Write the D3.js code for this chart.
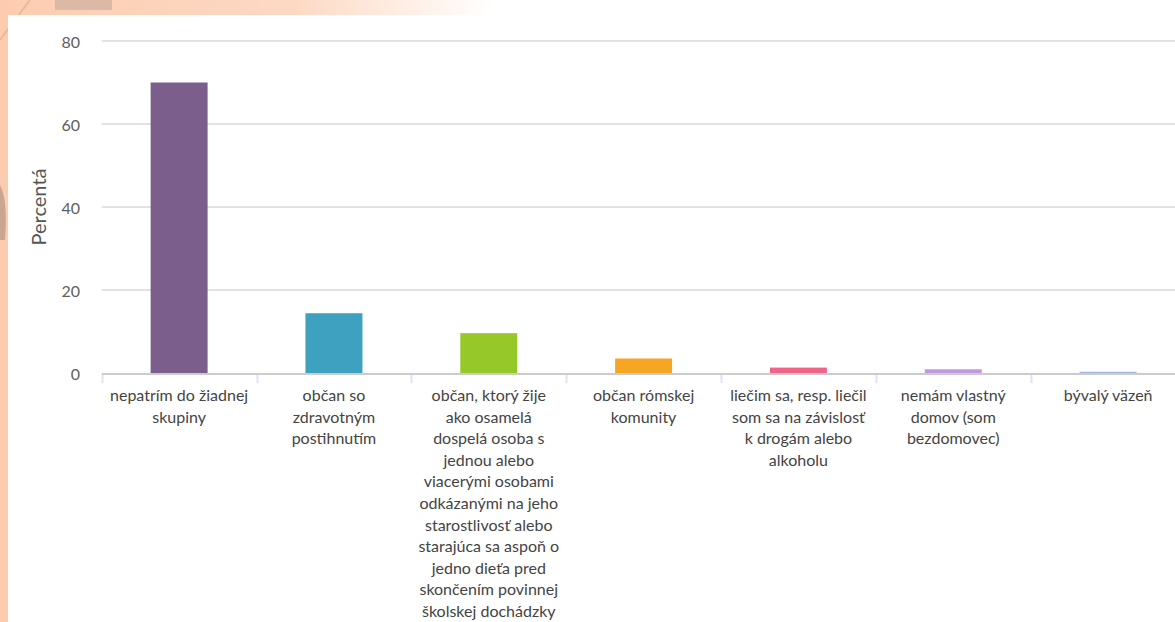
<!DOCTYPE html>
<html>
<head>
<meta charset="utf-8">
<script src="https://cdn.jsdelivr.net/npm/d3@7"></script>
<style>
  body { margin: 0; background: #fff; }
  svg { display: block; font-family: Lato, "Open Sans", sans-serif; }
</style>
</head>
<body>
<svg width="1175" height="622"></svg>
<script>
// categories (x axis), "\n" marks where the label wraps
const categories = [
  "nepatrím do žiadnej\nskupiny",
  "občan so\nzdravotným\npostihnutím",
  "občan, ktorý žije\nako osamelá\ndospelá osoba s\njednou alebo\nviacerými osobami\nodkázanými na jeho\nstarostlivosť alebo\nstarajúca sa aspoň o\njedno dieťa pred\nskončením povinnej\nškolskej dochádzky",
  "občan rómskej\nkomunity",
  "liečim sa, resp. liečil\nsom sa na závislosť\nk drogám alebo\nalkoholu",
  "nemám vlastný\ndomov (som\nbezdomovec)",
  "bývalý väzeň"
]
// percentages
const values = [70.0, 14.4, 9.6, 3.5, 1.3, 0.9, 0.3]
const colors = ["#7b5e8c", "#3fa1c0", "#96c82a", "#f5a623", "#f0648a", "#c397e0", "#a4b4e0"]
const yTicks = [0, 20, 40, 60, 80]
const yTitle = "Percentá"

const svg = d3.select('svg')
const width = +svg.attr('width')
const height = +svg.attr('height')

// page background (peach strip + white panel)
const defs = svg.append('defs')
const grad = defs.append('linearGradient').attr('id', 'topfade')
grad.append('stop').attr('offset', '0%').attr('stop-color', '#fcccb0')
grad.append('stop').attr('offset', '25%').attr('stop-color', '#fdd9c4')
grad.append('stop').attr('offset', '42%').attr('stop-color', '#ffffff')
svg.append('rect').attr('width', width).attr('height', height).attr('fill', 'url(#topfade)')
svg.append('rect').attr('width', 8).attr('height', height).attr('fill', '#fdcbb0')
svg.append('rect').attr('x', 55).attr('width', 57).attr('height', 10).attr('fill', '#dcb9a5')
svg.append('path').attr('d', 'M0,185 Q8,200 5,240 L0,240 Z').attr('fill', '#c9a592')
svg.append('path').attr('d', 'M0,40 L30,0').attr('stroke', '#e9b89d').attr('stroke-width', 2)
svg.append('rect').attr('x', 8).attr('y', 15).attr('width', width - 8).attr('height', height - 15).attr('fill', '#fff')

const x = d3.scaleBand()
  .domain(categories)
  .range([101.7, 1185.5])
  .padding(0)

const y = d3.scaleLinear()
  .domain([0, 80])
  .range([373, 41])

const barWidth = x.bandwidth() * 0.368

// gridlines
svg.append('g')
  .selectAll('line')
  .data(yTicks.filter(t => t > 0))
  .enter().append('line')
  .attr('x1', 101.7).attr('x2', width)
  .attr('y1', d => y(d)).attr('y2', d => y(d))
  .attr('stroke', '#d8d8d8')
  .attr('stroke-width', 1.5)

// y axis labels
const yAxis = svg.append('g')
  .attr('transform', 'translate(80,0)')
  .call(d3.axisLeft(y).tickValues(yTicks).tickSize(0).tickPadding(0))
yAxis.select('.domain').remove()
yAxis.selectAll('text')
  .attr('font-family', 'Lato, sans-serif')
  .attr('font-size', 16)
  .attr('fill', '#606060')
  .attr('dy', '0.4em')

svg.append('text')
  .attr('transform', `translate(46,${(y(0) + y(80)) / 2}) rotate(-90)`)
  .attr('text-anchor', 'middle')
  .attr('font-size', 20)
  .attr('fill', '#555')
  .text(yTitle)

// x axis line (under the bars)
const xAxis = svg.append('g')
  .attr('transform', `translate(0,${y(0) + 1})`)
  .call(d3.axisBottom(x).tickSize(0).tickFormat(''))
xAxis.select('.domain')
  .attr('stroke', '#cccccc')
  .attr('stroke-width', 2)
  .attr('d', `M101.7,0H${width}`)

// band boundary ticks
svg.append('g')
  .selectAll('line')
  .data(categories)
  .enter().append('line')
  .attr('x1', d => Math.round(x(d)) + 0.5).attr('x2', d => Math.round(x(d)) + 0.5)
  .attr('y1', y(0) + 2).attr('y2', y(0) + 10)
  .attr('stroke', '#dde3f2')
  .attr('stroke-width', 2)

// bars
svg.append('g')
  .selectAll('rect')
  .data(values)
  .enter().append('rect')
  .attr('x', (d, i) => x(categories[i]) + (x.bandwidth() - barWidth) / 2)
  .attr('width', barWidth)
  .attr('y', d => y(d))
  .attr('height', d => y(0) - y(d))
  .attr('fill', (d, i) => colors[i])

// wrapped category labels
const labels = svg.append('g')
  .attr('font-size', 16)
  .attr('fill', '#444')
  .attr('text-anchor', 'middle')

categories.forEach(c => {
  const cx = x(c) + x.bandwidth() / 2
  labels.append('text')
    .attr('y', 401)
    .selectAll('tspan')
    .data(c.split('\n'))
    .enter().append('tspan')
    .attr('x', cx)
    .attr('dy', (d, i) => i === 0 ? 0 : 21.6)
    .text(d => d)
})
</script>
</body>
</html>
